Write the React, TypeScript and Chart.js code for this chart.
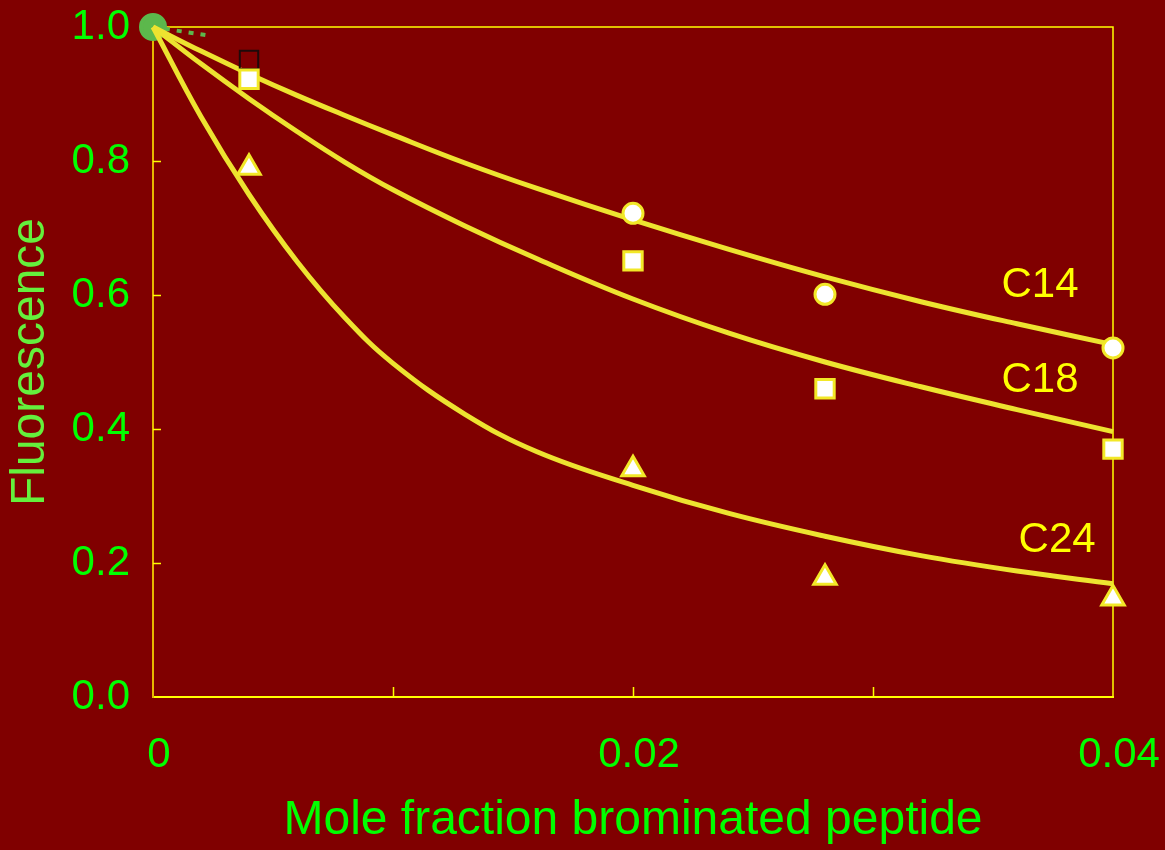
import React, { useEffect, useRef } from 'react';
import { Chart, registerables } from 'chart.js';

Chart.register(...registerables);

// ---- axis ticks ----
const X_TICKS = [0, 0.01, 0.02, 0.03, 0.04];
const X_TICK_LABELS = ['0', '', '0.02', '', '0.04'];
const Y_TICKS = [0, 0.2, 0.4, 0.6, 0.8, 1.0];
const Y_TICK_LABELS = ['0.0', '0.2', '0.4', '0.6', '0.8', '1.0'];

// ---- fitted curves ----
const CURVE_X = [0, 0.002, 0.004, 0.006, 0.008, 0.01, 0.013, 0.016, 0.02, 0.024, 0.028, 0.032, 0.036, 0.04];
const CURVE_C14 = [1.0, 0.964, 0.93, 0.898, 0.868, 0.839, 0.797, 0.759, 0.712, 0.668, 0.627, 0.59, 0.557, 0.526];
const CURVE_C18 = [1.0, 0.945, 0.893, 0.844, 0.798, 0.757, 0.703, 0.654, 0.594, 0.543, 0.5, 0.463, 0.429, 0.396];
const CURVE_C24 = [1.0, 0.866, 0.75, 0.65, 0.566, 0.498, 0.422, 0.366, 0.316, 0.274, 0.24, 0.211, 0.188, 0.169];

// ---- measured points ----
const C14_X = [0.02, 0.028, 0.04];
const C14_Y = [0.722, 0.601, 0.521];
const C18_X = [0.004, 0.02, 0.028, 0.04];
const C18_Y = [0.922, 0.651, 0.46, 0.37];
const C24_X = [0.004, 0.02, 0.028, 0.04];
const C24_Y = [0.79, 0.34, 0.178, 0.147];
const DARK_X = [0.004];
const DARK_Y = [0.951];
const GREEN_X = [0, 0.0022];
const GREEN_Y = [1.0, 0.988];

// ---- curve labels ----
const CURVE_LABELS = ['C14', 'C18', 'C24'];
const CURVE_LABEL_X = [0.03696, 0.03696, 0.03767];
const CURVE_LABEL_Y = [0.614, 0.472, 0.234];

const FONT = "'Liberation Sans', Arial, Helvetica, sans-serif";
const BG = '#800000';
const YELLOW = '#FFFF00';
const CURVE_YELLOW = '#EDE330';
const GREEN = '#00FF00';

const pts = (xs: number[], ys: number[]) => xs.map((x, i) => ({ x, y: ys[i] }));

const framePlugin = {
  id: 'frame',
  beforeDraw(chart: any) {
    const { ctx, width, height } = chart;
    ctx.save();
    ctx.fillStyle = BG;
    ctx.fillRect(0, 0, width, height);
    ctx.restore();
  },
  beforeDatasetsDraw(chart: any) {
    const { ctx, chartArea: a, scales } = chart;
    const x = scales.x;
    const y = scales.y;
    ctx.save();
    ctx.strokeStyle = YELLOW;
    ctx.lineWidth = 1.5;
    ctx.beginPath();
    ctx.moveTo(a.left, a.top);
    ctx.lineTo(a.right, a.top);
    ctx.lineTo(a.right, a.bottom);
    ctx.stroke();
    ctx.lineWidth = 1.5;
    ctx.beginPath();
    X_TICKS.slice(1, -1).forEach((v) => {
      const px = Math.round(x.getPixelForValue(v)) + 0.5;
      ctx.moveTo(px, a.bottom);
      ctx.lineTo(px, a.bottom - 10);
    });
    Y_TICKS.slice(1, -1).forEach((v) => {
      const py = Math.round(y.getPixelForValue(v)) + 0.5;
      ctx.moveTo(a.left, py);
      ctx.lineTo(a.left + 8, py);
    });
    ctx.stroke();
    ctx.restore();
  },
  afterDatasetsDraw(chart: any) {
    const { ctx, scales } = chart;
    ctx.save();
    ctx.fillStyle = YELLOW;
    ctx.font = `42px ${FONT}`;
    ctx.textAlign = 'center';
    ctx.textBaseline = 'middle';
    CURVE_LABELS.forEach((t, i) => {
      ctx.fillText(t, scales.x.getPixelForValue(CURVE_LABEL_X[i]), scales.y.getPixelForValue(CURVE_LABEL_Y[i]));
    });
    ctx.restore();
  },
};

export default function App() {
  const ref = useRef<HTMLCanvasElement | null>(null);

  useEffect(() => {
    document.body.style.margin = '0';
    document.body.style.background = BG;
    if (!ref.current) return;

    const curve = (label: string, data: any) => ({
      label,
      data,
      showLine: true,
      borderColor: CURVE_YELLOW,
      borderWidth: 5,
      pointRadius: 0,
      tension: 0.4,
      fill: false,
      clip: false,
      order: 3,
    });
    const marker = (label: string, data: any, style: string, radius: number) => ({
      label,
      data,
      showLine: false,
      pointStyle: style,
      pointRadius: radius,
      pointBackgroundColor: '#FFFFFF',
      pointBorderColor: '#F2E828',
      pointBorderWidth: 3,
      clip: false,
      order: 1,
    });

    const chart = new Chart(ref.current, {
      type: 'scatter',
      data: {
        datasets: [
          {
            label: 'start',
            data: pts(GREEN_X, GREEN_Y),
            showLine: true,
            borderColor: '#5CB84C',
            borderWidth: 4,
            borderDash: [5, 7],
            pointRadius: [12, 0],
            pointBackgroundColor: '#5CB84C',
            pointBorderColor: '#5CB84C',
            pointStyle: 'circle',
            clip: false,
            order: 5,
          } as any,
          curve('C14 fit', pts(CURVE_X, CURVE_C14)),
          curve('C18 fit', pts(CURVE_X, CURVE_C18)),
          curve('C24 fit', pts(CURVE_X, CURVE_C24)),
          {
            label: 'extra',
            data: pts(DARK_X, DARK_Y),
            showLine: false,
            pointStyle: 'rect',
            pointRadius: 13,
            pointBackgroundColor: 'rgba(0,0,0,0)',
            pointBorderColor: '#1E0A0A',
            pointBorderWidth: 2,
            clip: false,
            order: 2,
          } as any,
          marker('C14', pts(C14_X, C14_Y), 'circle', 10),
          marker('C18', pts(C18_X, C18_Y), 'rect', 13),
          marker('C24', pts(C24_X, C24_Y), 'triangle', 13),
        ] as any,
      },
      options: {
        animation: false,
        responsive: true,
        maintainAspectRatio: false,
        layout: { padding: { top: 27, right: 52, left: 0, bottom: 0 } },
        plugins: {
          legend: { display: false },
          tooltip: { enabled: false },
        },
        scales: {
          x: {
            type: 'linear',
            min: 0,
            max: 0.04,
            afterBuildTicks: (s: any) => {
              s.ticks = X_TICKS.map((v) => ({ value: v }));
            },
            afterFit: (s: any) => {
              s.height = 153;
              s.paddingLeft = 0;
              s.paddingRight = 0;
            },
            grid: { display: true, drawOnChartArea: false, drawTicks: false },
            border: { display: true, color: YELLOW, width: 2 },
            ticks: {
              autoSkip: false,
              maxRotation: 0,
              padding: 33,
              labelOffset: 6,
              color: GREEN,
              font: { family: FONT, size: 42, lineHeight: 1.2 },
              callback: (_v: any, i: number) => X_TICK_LABELS[i],
            },
            title: {
              display: true,
              text: 'Mole fraction brominated peptide',
              color: GREEN,
              font: { family: FONT, size: 48, lineHeight: 1.2 },
              padding: { top: 0, bottom: 0 },
            },
          },
          y: {
            type: 'linear',
            min: 0,
            max: 1,
            afterBuildTicks: (s: any) => {
              s.ticks = Y_TICKS.map((v) => ({ value: v }));
            },
            afterFit: (s: any) => {
              s.width = 153;
              s.paddingTop = 0;
              s.paddingBottom = 0;
            },
            grid: { display: true, drawOnChartArea: false, drawTicks: false },
            border: { display: true, color: '#E6B800', width: 2 },
            ticks: {
              autoSkip: false,
              padding: 23,
              color: GREEN,
              font: { family: FONT, size: 42, lineHeight: 1.2 },
              callback: (_v: any, i: number) => Y_TICK_LABELS[i],
            },
            title: {
              display: true,
              text: 'Fluorescence',
              color: '#64F03C',
              font: { family: FONT, size: 48, lineHeight: 1.2 },
              padding: { top: 2, bottom: 0 },
            },
          },
        },
      } as any,
      plugins: [framePlugin],
    });

    return () => chart.destroy();
  }, []);

  return (
    <div style={{ position: 'absolute', left: 0, top: 0, width: 1165, height: 850, background: BG }}>
      <canvas ref={ref} />
    </div>
  );
}
